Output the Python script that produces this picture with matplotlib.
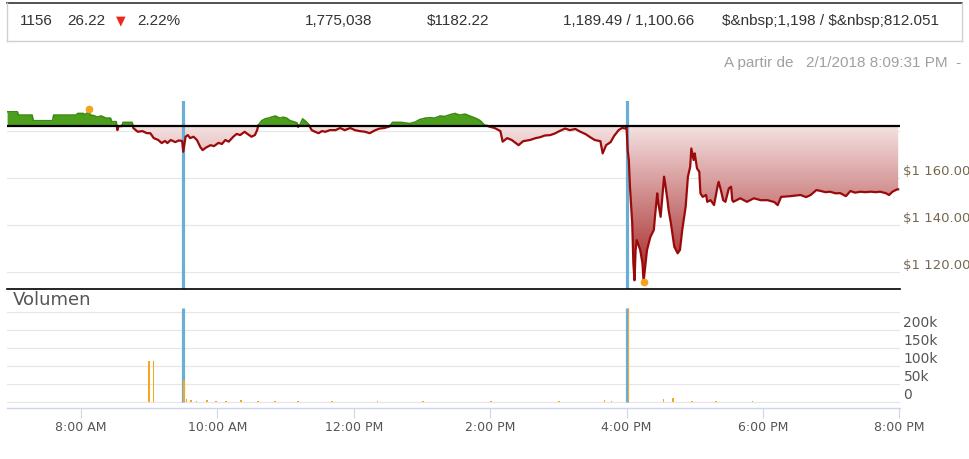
import matplotlib.pyplot as plt
import numpy as np
from matplotlib.lines import Line2D
from matplotlib.patches import PathPatch
from matplotlib.path import Path
from matplotlib.colors import LinearSegmentedColormap
import matplotlib.transforms as mtransforms

plt.rcParams['text.parse_math'] = False

# datos
prev_close = 1182.22
horas = ["6:55", "7:04", "7:05", "7:17", "7:18", "7:35", "7:36", "7:56", "7:57", "8:02",
         "8:03", "8:05", "8:06", "8:07", "8:08", "8:11", "8:14", "8:18", "8:22", "8:26",
         "8:27", "8:31", "8:32", "8:33", "8:36", "8:37", "8:45", "8:46", "8:50", "8:54",
         "8:58", "9:01", "9:04", "9:08", "9:11", "9:14", "9:16", "9:19", "9:23", "9:26",
         "9:29", "9:30", "9:32", "9:34", "9:36", "9:39", "9:42", "9:45", "9:47", "9:50",
         "9:54", "9:57", "10:01", "10:04", "10:07", "10:10", "10:14", "10:17", "10:20", "10:24",
         "10:27", "10:30", "10:33", "10:35", "10:36", "10:39", "10:42", "10:45", "10:48", "10:51",
         "10:55", "10:58", "11:01", "11:04", "11:07", "11:10", "11:11", "11:13", "11:15", "11:18",
         "11:20", "11:23", "11:26", "11:29", "11:32", "11:35", "11:39", "11:44", "11:48", "11:52",
         "11:57", "12:01", "12:05", "12:10", "12:14", "12:19", "12:23", "12:27", "12:32", "12:34",
         "12:41", "12:45", "12:49", "12:54", "12:58", "13:03", "13:07", "13:11", "13:16", "13:20",
         "13:25", "13:29", "13:33", "13:38", "13:42", "13:47", "13:51", "13:55", "14:00", "14:04",
         "14:09", "14:11", "14:15", "14:19", "14:25", "14:29", "14:35", "14:40", "14:44", "14:48",
         "14:53", "14:57", "15:01", "15:06", "15:10", "15:15", "15:19", "15:24", "15:28", "15:32",
         "15:37", "15:39", "15:42", "15:46", "15:49", "15:53", "15:56", "15:59", "16:00", "16:01",
         "16:02", "16:03", "16:04", "16:05", "16:06", "16:07", "16:08", "16:09", "16:10", "16:12",
         "16:14", "16:15", "16:17", "16:18", "16:21", "16:24", "16:25", "16:27", "16:28", "16:30",
         "16:31", "16:33", "16:34", "16:36", "16:37", "16:39", "16:42", "16:45", "16:47", "16:49",
         "16:52", "16:54", "16:56", "16:57", "16:59", "17:00", "17:02", "17:04", "17:05", "17:07",
         "17:10", "17:11", "17:14", "17:17", "17:20", "17:21", "17:23", "17:25", "17:27", "17:30",
         "17:32", "17:33", "17:34", "17:40", "17:46", "17:52", "17:58", "18:04", "18:10", "18:13",
         "18:16", "18:24", "18:33", "18:38", "18:42", "18:47", "18:51", "18:55", "18:59", "19:04",
         "19:08", "19:13", "19:17", "19:21", "19:26", "19:30", "19:35", "19:39", "19:43", "19:48",
         "19:51", "19:54", "19:58", "19:59"]
precios = [1188.2, 1188.2, 1186.8, 1186.8, 1184.4, 1184.4, 1186.8, 1186.8, 1187.5, 1187.5,
           1187.0, 1187.5, 1188.0, 1189.5, 1186.8, 1186.6, 1186.0, 1186.4, 1185.5, 1185.5,
           1184.0, 1184.0, 1180.4, 1182.1, 1182.1, 1183.7, 1183.7, 1181.3, 1179.7, 1180.0,
           1179.1, 1179.1, 1177.0, 1176.2, 1174.9, 1175.8, 1174.9, 1176.2, 1175.3, 1176.0,
           1175.8, 1171.2, 1177.6, 1178.3, 1177.0, 1177.6, 1176.2, 1173.2, 1171.9, 1173.0,
           1174.0, 1173.6, 1175.0, 1174.5, 1176.2, 1175.5, 1177.6, 1178.8, 1178.3, 1179.7,
           1178.6, 1177.6, 1178.3, 1180.4, 1182.5, 1184.4, 1185.2, 1185.5, 1186.0, 1186.4,
           1185.5, 1185.9, 1185.5, 1184.4, 1184.0, 1183.5, 1181.8, 1183.0, 1185.2, 1184.0,
           1183.0, 1180.4, 1179.7, 1179.1, 1180.0, 1179.7, 1180.4, 1180.4, 1181.3, 1180.4,
           1181.3, 1180.4, 1180.0, 1179.7, 1179.1, 1180.4, 1181.1, 1181.3, 1182.1, 1183.7,
           1183.7, 1183.5, 1183.2, 1183.8, 1184.9, 1185.5, 1185.7, 1185.5, 1186.4, 1186.2,
           1187.0, 1187.5, 1186.8, 1187.2, 1186.4, 1185.5, 1184.5, 1182.6, 1181.8, 1181.3,
           1180.0, 1175.5, 1177.0, 1176.2, 1174.0, 1175.7, 1176.2, 1177.0, 1177.4, 1178.1,
           1178.3, 1179.0, 1180.0, 1181.1, 1180.4, 1180.9, 1179.8, 1178.7, 1177.4, 1176.2,
           1175.7, 1170.5, 1174.0, 1175.3, 1177.9, 1180.4, 1181.3, 1181.1, 1181.8, 1171.9,
           1167.7, 1156.3, 1148.5, 1140.9, 1123.8, 1116.5, 1129.4, 1133.6, 1132.3, 1129.4,
           1123.8, 1115.9, 1125.1, 1129.4, 1135.0, 1137.9, 1143.5, 1153.5, 1149.2, 1143.5,
           1149.2, 1160.6, 1157.7, 1150.6, 1146.4, 1140.9, 1130.8, 1128.0, 1129.4, 1137.9,
           1147.8, 1160.6, 1164.8, 1172.6, 1167.7, 1170.5, 1164.1, 1162.7, 1153.5, 1152.0,
           1152.8, 1149.9, 1150.6, 1148.5, 1156.3, 1158.4, 1154.9, 1150.6, 1149.9, 1155.6,
           1156.3, 1150.6, 1149.9, 1151.4, 1149.9, 1151.4, 1150.6, 1150.6, 1149.8, 1148.5,
           1152.0, 1152.3, 1152.8, 1151.9, 1152.8, 1154.9, 1154.5, 1154.0, 1154.2, 1153.5,
           1153.6, 1152.3, 1154.5, 1153.8, 1154.2, 1154.0, 1154.2, 1154.0, 1154.2, 1153.6,
           1152.8, 1154.2, 1155.2, 1155.2]

alto = ("8:07", 1189.49)
bajo = ("16:15", 1115.9)

vol_horas = ["8:59", "9:03", "9:30", "9:32", "9:36", "9:41", "9:50", "9:58", "10:07", "10:20",
             "10:35", "10:50", "11:10", "11:40", "12:20", "13:00", "14:00", "15:00", "15:40", "15:46",
             "16:01", "16:32", "16:40", "16:57", "17:18", "17:50"]
vol_k = [114, 114, 61, 8, 5, 3, 5, 3, 4, 6,
         4, 3, 3, 3, 2, 2, 2, 2, 5, 4,
         260, 8, 11, 4, 3, 2]

sesiones = ["9:30", "16:00"]
x_ticks = [8, 10, 12, 14, 16, 18, 20]
x_labels = ["8:00 AM", "10:00 AM", "12:00 PM", "2:00 PM", "4:00 PM", "6:00 PM", "8:00 PM"]
p_ticks = [1120, 1140, 1160, 1180]
p_labels = ["$1 120.00", "$1 140.00", "$1 160.00", ""]
v_ticks = [0, 50, 100, 150, 200, 250]
v_labels = ["0", "50k", "100k", "150k", "200k", ""]

encabezado = [("1156", 20), ("26.22", 67), ("2.22%", 137), ("1,775,038", 305),
              ("$1182.22", 427), ("1,189.49 / 1,100.66", 563),
              ("$&nbsp;1,198 / $&nbsp;812.051", 722)]


def h(s):
    a, b = s.split(":")
    return int(a) + int(b) / 60.0


t = np.array([h(s) for s in horas])
p = np.array(precios)

# insertar los cruces con el cierre anterior
tt, pp = [t[0]], [p[0]]
for i in range(1, len(t)):
    a, b = p[i-1] - prev_close, p[i] - prev_close
    if a * b < 0:
        f = a / (a - b)
        tt.append(t[i-1] + f * (t[i] - t[i-1]))
        pp.append(prev_close)
    tt.append(t[i])
    pp.append(p[i])
tt = np.array(tt)
pp = np.array(pp)

W, H = 970, 459
fig = plt.figure(figsize=(9.7, 4.59), dpi=100)


def fx(px):
    return px / W


def fy(py):
    return 1 - py / H


x0, x1 = 6.915, 20.01
ylo, yhi = 1112.8, 1192.8

ax = fig.add_axes([fx(7), fy(289), fx(893), (289 - 101) / H])
axv = fig.add_axes([fx(7), fy(408), fx(893), (408 - 308) / H])

# ---- precio
ax.set_yticks(p_ticks)
ax.set_yticklabels(p_labels)
ax.grid(axis="y", color="#e6e6e6", lw=0.8)
ax.set_axisbelow(True)

for s in sesiones:
    ax.axvline(h(s), color="#6aaed6", lw=2.3, zorder=2)

ax.fill_between(tt, prev_close, np.maximum(pp, prev_close), color="#4c9e1c", lw=0, zorder=3)
roja = ax.fill_between(tt, np.minimum(pp, prev_close), prev_close, facecolor="none", lw=0)
clip = Path.make_compound_path(*roja.get_paths())
patch = PathPatch(clip, transform=ax.transData, facecolor="none", edgecolor="none")
ax.add_patch(patch)
cmap = LinearSegmentedColormap.from_list("rojo", ["#a01818", "#f5e2e2"])
grad = np.linspace(0, 1, 256).reshape(-1, 1)
im = ax.imshow(grad, extent=[x0, x1, ylo, prev_close], origin="lower", cmap=cmap,
               aspect="auto", zorder=1.5)
im.set_clip_path(patch)

ax.plot(tt, np.where(pp >= prev_close, pp, np.nan), color="#3a8c10", lw=1.2, zorder=4)
ax.plot(tt, np.where(pp <= prev_close, pp, np.nan), color="#9b0a0a", lw=1.6, zorder=4)
ax.axhline(prev_close, color="black", lw=1.6, zorder=5)
ax.plot(h(alto[0]), alto[1], "o", color="#f7a21b", ms=4.5, zorder=6)
ax.plot(h(bajo[0]), bajo[1], "o", color="#f7a21b", ms=4.5, zorder=6)

ax.set_xlim(x0, x1)
ax.set_ylim(ylo, yhi)
ax.set_xticks([])
ax.yaxis.tick_right()
ax.tick_params(axis="y", length=0, pad=2.0, labelsize=9.5, labelcolor="#756850")
off = mtransforms.ScaledTranslation(0, 0.08, fig.dpi_scale_trans)
for lab in ax.get_yticklabels():
    lab.set_transform(lab.get_transform() + off)
for k in ["top", "left", "right"]:
    ax.spines[k].set_visible(False)
ax.spines["bottom"].set_color("black")
ax.spines["bottom"].set_linewidth(1.2)

# ---- volumen
vt = np.array([h(s) for s in vol_horas])
vtop = 261.1
axv.set_ylim(-16.7, vtop)
axv.set_xlim(x0, x1)
axv.set_yticks(v_ticks)
axv.set_yticklabels(v_labels)
axv.grid(axis="y", color="#e6e6e6", lw=0.8)
axv.set_axisbelow(True)
for s in sesiones:
    axv.vlines(h(s), 0, vtop, color="#6aaed6", lw=2.3, zorder=2)
axv.bar(vt + 0.012, vol_k, width=0.022, color="#f5a623", zorder=3)
axv.yaxis.tick_right()
axv.tick_params(axis="y", length=0, pad=2.5, labelsize=10, labelcolor="#555555")
for lab in axv.get_yticklabels():
    lab.set_transform(lab.get_transform() + off)
axv.set_xticks(x_ticks)
axv.set_xticklabels(x_labels)
axv.tick_params(axis="x", length=7.2, width=0.8, color="#ccd6eb", pad=2.5,
                labelsize=9, labelcolor="#555555")
for k in ["top", "left", "right"]:
    axv.spines[k].set_visible(False)
axv.spines["bottom"].set_color("#ccd6eb")
axv.spines["bottom"].set_linewidth(1)

fig.text(fx(13), fy(300), "Volumen", fontsize=13, color="#555555", va="center", ha="left")

# ---- encabezado
fig.add_artist(Line2D([fx(7), fx(962)], [fy(3), fy(3)], color="#333333", lw=1.2))
fig.add_artist(Line2D([fx(7), fx(962)], [fy(41), fy(41)], color="#d0d0d0", lw=1))
fig.add_artist(Line2D([fx(7), fx(7)], [fy(3), fy(41)], color="#d0d0d0", lw=1))
fig.add_artist(Line2D([fx(962), fx(962)], [fy(3), fy(41)], color="#d0d0d0", lw=1))
for txt, px in encabezado:
    fig.text(fx(px), fy(21), txt, fontsize=11, color="#333333", va="center", ha="left",
             family="Liberation Sans")
fig.text(fx(116), fy(21), "▼", fontsize=9, color="#e8291c", va="center", ha="left",
         family="DejaVu Sans")
fig.text(fx(724), fy(63), "A partir de", fontsize=11, color="#a0a0a0", va="center",
         ha="left", family="Liberation Sans")
fig.text(fx(806), fy(63), "2/1/2018 8:09:31 PM  -", fontsize=11, color="#a0a0a0",
         va="center", ha="left", family="Liberation Sans")

fig.savefig("out.png", dpi=100)
